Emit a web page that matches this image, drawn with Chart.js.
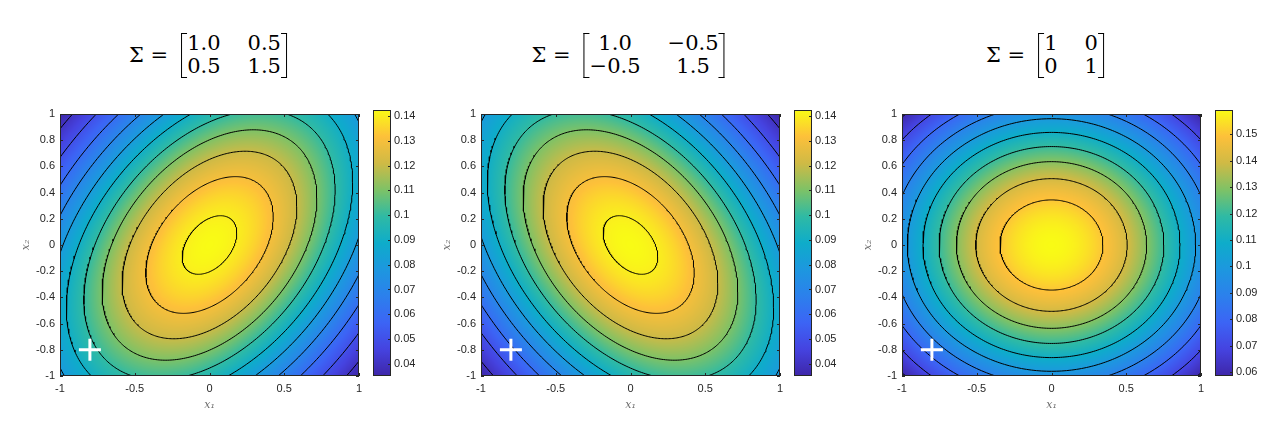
<!DOCTYPE html>
<html>
<head>
<meta charset="utf-8">
<script src="https://cdn.jsdelivr.net/npm/chart.js@4.4.1/dist/chart.umd.min.js"></script>
<style>
body { margin: 0; background: #fff; width: 1283px; height: 440px; position: relative; overflow: hidden; }
canvas { position: absolute; }
.ttl { position: absolute; top: 32px; display: flex; align-items: center; font: 21px 'DejaVu Serif', serif; color: #000; transform: translateX(-50%); white-space: nowrap; }
.lhs { margin-right: 13px; }
.mat { position: relative; display: grid; grid-template-columns: auto auto; column-gap: 27px; padding: 0 6px; line-height: 23px; justify-items: center; }
.bl, .br { position: absolute; top: 1px; bottom: 0; width: 5px; border: 1.5px solid #000; }
.bl { left: 0; border-right: none; }
.br { right: 0; border-left: none; }
</style>
</head>
<body>
<script>
const sigma1 = [[1.0, 0.5], [0.5, 1.5]];
const sigma2 = [[1.0, -0.5], [-0.5, 1.5]];
const sigma3 = [[1, 0], [0, 1]];
const sigmaText1 = ['1.0', '0.5', '0.5', '1.5'];
const sigmaText2 = ['1.0', '\u22120.5', '\u22120.5', '1.5'];
const sigmaText3 = ['1', '0', '0', '1'];

// níveis das curvas de contorno
const levels12 = [0.04, 0.05, 0.06, 0.07, 0.08, 0.09, 0.10, 0.11, 0.12, 0.13, 0.14];
const levels3 = [0.06, 0.07, 0.08, 0.09, 0.10, 0.11, 0.12, 0.13, 0.14, 0.15];

// faixa da barra de cores e seus ticks
const cbRange12 = [0.0351, 0.1424];
const cbRange3 = [0.0585, 0.1592];
const cbTicks12 = [0.04, 0.05, 0.06, 0.07, 0.08, 0.09, 0.1, 0.11, 0.12, 0.13, 0.14];
const cbTicks3 = [0.06, 0.07, 0.08, 0.09, 0.1, 0.11, 0.12, 0.13, 0.14, 0.15];

const xTicks = [-1, -0.5, 0, 0.5, 1];
const yTicks = [-1, -0.8, -0.6, -0.4, -0.2, 0, 0.2, 0.4, 0.6, 0.8, 1];
const markerPoint = [{ x: -0.8, y: -0.8 }];

// parula aproximado
const parulaPos = [0, 0.1, 0.2, 0.3, 0.4, 0.5, 0.6, 0.7, 0.8, 0.9, 1];
const parula = ['#3e26a8', '#4543e0', '#3c64f5', '#2c80ec', '#1d97df', '#0eacca', '#2fbaa4', '#7ec266', '#cfba45', '#fdc03a', '#f9fb15'];

const panels = [
    { sigma: sigma1, text: sigmaText1, levels: levels12, range: cbRange12, cbTicks: cbTicks12, left: 60, titleX: 208 },
    { sigma: sigma2, text: sigmaText2, levels: levels12, range: cbRange12, cbTicks: cbTicks12, left: 481, titleX: 628 },
    { sigma: sigma3, text: sigmaText3, levels: levels3, range: cbRange3, cbTicks: cbTicks3, left: 902, titleX: 1045 },
];

const TOP = 110, PW = 303, PH = 266, CBW = 18, CBGAP = 10;
const tickFont = { family: 'Liberation Sans', size: 11 };
const tickColor = '#262626';

const parulaRGB = parula.map(h => [1, 3, 5].map(i => parseInt(h.substr(i, 2), 16)));
function colorAt(t) {
    t = Math.max(0, Math.min(1, t));
    let i = 0;
    while (i < parulaPos.length - 2 && t > parulaPos[i + 1]) i++;
    const u = (t - parulaPos[i]) / (parulaPos[i + 1] - parulaPos[i]);
    return parulaRGB[i].map((c, k) => Math.round(c + (parulaRGB[i + 1][k] - c) * u));
}

function det(S) { return S[0][0] * S[1][1] - S[0][1] * S[1][0]; }
function density(S, x, y) {
    const D = det(S);
    const q = (S[1][1] * x * x - 2 * S[0][1] * x * y + S[0][0] * y * y) / D;
    return Math.exp(-q / 2) / (2 * Math.PI * Math.sqrt(D));
}

// elipse de nível constante da densidade
function contour(S, level) {
    const peak = 1 / (2 * Math.PI * Math.sqrt(det(S)));
    if (level >= peak) return [];
    const s = Math.sqrt(-2 * Math.log(level / peak));
    const a = Math.sqrt(S[0][0]), b = S[0][1] / a, d = Math.sqrt(S[1][1] - b * b);
    const pts = [];
    for (let k = 0; k <= 360; k++) {
        const t = k * Math.PI / 180;
        pts.push({ x: s * a * Math.cos(t), y: s * (b * Math.cos(t) + d * Math.sin(t)) });
    }
    return pts;
}

function heatmap(S, range) {
    return {
        id: 'heatmap',
        beforeDatasetsDraw(chart) {
            const { ctx, chartArea: a, scales: { x, y } } = chart;
            const w = Math.round(a.right - a.left), h = Math.round(a.bottom - a.top);
            const off = document.createElement('canvas');
            off.width = w; off.height = h;
            const octx = off.getContext('2d');
            const img = octx.createImageData(w, h);
            for (let j = 0; j < h; j++) {
                const yv = y.getValueForPixel(a.top + j + 0.5);
                for (let i = 0; i < w; i++) {
                    const xv = x.getValueForPixel(a.left + i + 0.5);
                    const c = colorAt((density(S, xv, yv) - range[0]) / (range[1] - range[0]));
                    const k = (j * w + i) * 4;
                    img.data[k] = c[0]; img.data[k + 1] = c[1]; img.data[k + 2] = c[2]; img.data[k + 3] = 255;
                }
            }
            octx.putImageData(img, 0, 0);
            ctx.drawImage(off, a.left, a.top);
        }
    };
}

// moldura estilo matlab, ticks para dentro
function frame(xVals, yVals, rightOnly) {
    return {
        id: 'frame',
        afterDraw(chart) {
            const { ctx, chartArea: a, scales } = chart;
            ctx.save();
            ctx.strokeStyle = tickColor;
            ctx.lineWidth = 1;
            ctx.strokeRect(a.left + 0.5, a.top + 0.5, a.right - a.left - 1, a.bottom - a.top - 1);
            ctx.beginPath();
            xVals.forEach(v => {
                const px = Math.round(scales.x.getPixelForValue(v)) + 0.5;
                ctx.moveTo(px, a.bottom); ctx.lineTo(px, a.bottom - 3);
                ctx.moveTo(px, a.top); ctx.lineTo(px, a.top + 3);
            });
            yVals.forEach(v => {
                const py = Math.round(scales.y.getPixelForValue(v)) + 0.5;
                if (!rightOnly) { ctx.moveTo(a.left, py); ctx.lineTo(a.left + 3, py); }
                ctx.moveTo(a.right, py); ctx.lineTo(a.right - 3, py);
            });
            ctx.stroke();
            ctx.restore();
        }
    };
}

function addCanvas(left, top, w, h) {
    const c = document.createElement('canvas');
    c.width = w; c.height = h;
    c.style.left = left + 'px'; c.style.top = top + 'px';
    c.style.width = w + 'px'; c.style.height = h + 'px';
    document.body.appendChild(c);
    return c;
}

panels.forEach(p => {
    // título com a matriz
    const t = document.createElement('div');
    t.className = 'ttl';
    t.style.left = p.titleX + 'px';
    t.innerHTML = '<span class="lhs">\u03A3 =</span><div class="mat"><div class="bl"></div>' +
        p.text.map(s => '<span>' + s + '</span>').join('') + '<div class="br"></div></div>';
    document.body.appendChild(t);

    const datasets = p.levels.map(l => ({
        data: contour(p.sigma, l),
        showLine: true,
        pointRadius: 0,
        borderColor: '#000',
        borderWidth: 1,
        clip: 0,
        order: 2,
    }));
    datasets.push({
        data: markerPoint,
        pointStyle: 'cross',
        pointRadius: 11,
        borderColor: '#fff',
        borderWidth: 3,
        order: 0,
    });

    const cv = addCanvas(p.left - 50, TOP - 10, 50 + PW + 10, 10 + PH + 40);
    new Chart(cv.getContext('2d'), {
        type: 'scatter',
        data: { datasets },
        options: {
            responsive: false,
            animation: false,
            events: [],
            layout: { padding: { left: 0, top: 10, right: 10, bottom: 0 } },
            plugins: { legend: { display: false }, tooltip: { enabled: false } },
            scales: {
                x: {
                    type: 'linear', min: -1, max: 1,
                    afterBuildTicks: s => { s.ticks = xTicks.map(v => ({ value: v })); },
                    afterFit: s => { s.height = 40; },
                    grid: { display: false, drawTicks: false },
                    border: { display: false },
                    ticks: { font: tickFont, color: tickColor, padding: 6, autoSkip: false, maxRotation: 0, callback: v => String(v) },
                    title: { display: true, text: 'x\u2081', color: '#6e6e6e', font: { family: 'DejaVu Serif', style: 'italic', size: 11 }, padding: { top: 0, bottom: 4 } },
                },
                y: {
                    type: 'linear', min: -1, max: 1,
                    afterBuildTicks: s => { s.ticks = yTicks.map(v => ({ value: v })); },
                    afterFit: s => { s.width = 50; },
                    grid: { display: false, drawTicks: false },
                    border: { display: false },
                    ticks: { font: tickFont, color: tickColor, padding: 5, autoSkip: false, callback: v => String(v) },
                    title: { display: true, text: 'x\u2082', color: '#6e6e6e', font: { family: 'DejaVu Serif', style: 'italic', size: 11 }, padding: { top: 10, bottom: 0 } },
                },
            },
        },
        plugins: [heatmap(p.sigma, p.range), frame(xTicks, yTicks, false)],
    });

    // barra de cores
    const cb = addCanvas(p.left + PW + CBGAP, TOP - 10, CBW + 40, 10 + PH + 40);
    new Chart(cb.getContext('2d'), {
        type: 'bar',
        data: {
            labels: [''],
            datasets: [{
                data: [p.range],
                barPercentage: 1,
                categoryPercentage: 1,
                borderWidth: 0,
                backgroundColor: c => {
                    const a = c.chart.chartArea;
                    if (!a) return null;
                    const g = c.chart.ctx.createLinearGradient(0, a.bottom, 0, a.top);
                    parula.forEach((col, i) => g.addColorStop(parulaPos[i], col));
                    return g;
                },
            }],
        },
        options: {
            responsive: false,
            animation: false,
            events: [],
            layout: { padding: { left: 0, top: 10, right: 0, bottom: 40 } },
            plugins: { legend: { display: false }, tooltip: { enabled: false } },
            scales: {
                x: { display: false },
                y: {
                    position: 'right', min: p.range[0], max: p.range[1],
                    afterBuildTicks: s => { s.ticks = p.cbTicks.map(v => ({ value: v })); },
                    afterFit: s => { s.width = 40; },
                    grid: { display: false, drawTicks: false },
                    border: { display: false },
                    ticks: { font: tickFont, color: tickColor, padding: 3, autoSkip: false, callback: v => String(v) },
                },
            },
        },
        plugins: [frame([], p.cbTicks, true)],
    });
});
</script>
</body>
</html>
